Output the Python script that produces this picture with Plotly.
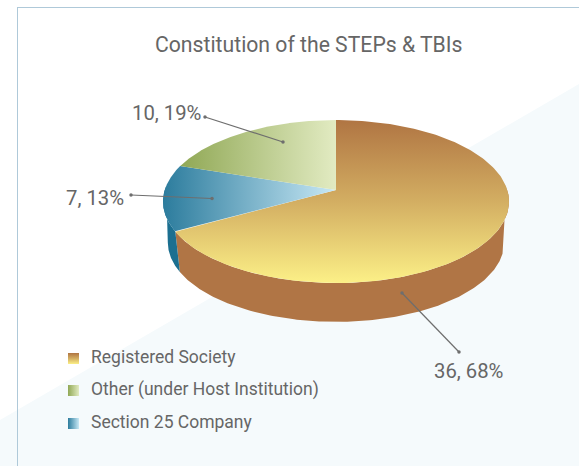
import numpy as np
import plotly.graph_objects as go

TITLE = "Constitution of the STEPs & TBIs"
categories = ["Registered Society", "Other (under Host Institution)", "Section 25 Company"]
values = [36, 10, 7]
draw_order = [0, 2, 1]  # clockwise from 12 o'clock

top_scale = {
    0: ("vertical", [[0, "#FCF087"], [0.5, "#D3AE62"], [1, "#B07543"]]),
    1: ("horizontal", [[0, "#90A855"], [1, "#E2EBC2"]]),
    2: ("horizontal", [[0, "#2C7C9D"], [1, "#C8E8F5"]]),
}
side_color = {0: "#B07545", 1: "#8A9F4D", 2: "#1B6F90"}
label_pos = {0: (468, 371), 1: (166.5, 113), 2: (95, 198)}
leaders = {0: ((402, 293), (459, 352)), 1: ((205, 117), (283, 142)), 2: ((131, 195), (212, 198.5))}
TEXT = "#666666"
FONT = "Roboto"

# pie geometry in pixels
CX, Y0, A, B, K, APEX_Y, DEPTH, BOTTOM_SCALE = 336, 195.8, 172.6, 81.1, 0.07, 190, 41.3, 0.972


def rim(deg, depth=0.0, scale=1.0):
    t = np.radians(deg)
    d = 1 + K * np.cos(t)
    return CX + scale * A * np.sin(t) / d, Y0 + depth - scale * B * np.cos(t) / d


fig = go.Figure()
total = sum(values)
start = 0.0
wedges = []
for i in draw_order:
    end = start + values[i] / total * 360
    wedges.append((i, start, end))
    start = end

# side walls (only the part facing the viewer)
for i, a0, a1 in wedges:
    lo, hi = max(a0, 84), min(a1, 277)
    if hi <= lo:
        continue
    deg = np.linspace(lo, hi, 160)
    xt, yt = rim(deg)
    b_lo = max(lo, 102)
    deg_b = np.linspace(b_lo, max(min(hi, 266), b_lo), 160)
    xb, yb = rim(deg_b[::-1], DEPTH, BOTTOM_SCALE)
    fig.add_trace(go.Scatter(
        x=np.r_[xt, xb], y=np.r_[yt, yb], mode="lines", fill="toself",
        line=dict(width=0), fillcolor=side_color[i], hoverinfo="skip", showlegend=False))

# top faces
for i, a0, a1 in wedges:
    deg = np.linspace(a0, a1, 240)
    xt, yt = rim(deg)
    kind, scale = top_scale[i]
    fig.add_trace(go.Scatter(
        x=np.r_[CX, xt, CX], y=np.r_[APEX_Y, yt, APEX_Y], mode="lines", fill="toself",
        line=dict(width=0), fillgradient=dict(type=kind, colorscale=scale),
        name=categories[i], text=categories[i], hoverinfo="text", showlegend=False))

# leaders and labels
annotations = [dict(x=308.5, y=44, text=TITLE, showarrow=False, font=dict(family=FONT, size=21.2, color=TEXT))]
for i, (p, q) in leaders.items():
    fig.add_trace(go.Scatter(x=[p[0], q[0]], y=[p[1], q[1]], mode="lines+markers",
                             line=dict(color="#6E6E6E", width=1.2),
                             marker=dict(color="#6E6E6E", size=3.5),
                             hoverinfo="skip", showlegend=False))
    annotations.append(dict(x=label_pos[i][0], y=label_pos[i][1],
                            text=f"{values[i]}, {round(values[i] / total * 100)}%",
                            showarrow=False, font=dict(family=FONT, size=20.3, color=TEXT)))

# legend
leg_y = [358.5, 390.5, 423.5]
for i, cat in enumerate(categories):
    kind, scale = top_scale[i]
    y = leg_y[i]
    fig.add_trace(go.Scatter(x=[68, 79, 79, 68, 68], y=[y - 5.5, y - 5.5, y + 5.5, y + 5.5, y - 5.5],
                             mode="lines", fill="toself", line=dict(width=0),
                             fillgradient=dict(type=kind, colorscale=scale),
                             hoverinfo="skip", showlegend=False))
    annotations.append(dict(x=89, y=y - 1.5, text=cat, xanchor="left", showarrow=False,
                            font=dict(family=FONT, size=17.5, color=TEXT)))

shapes = [
    dict(type="path", path="M 0 420 L 579 84 L 579 466 L 0 466 Z", fillcolor="#F5FAFC", line_width=0, layer="below"),
    dict(type="line", x0=17.5, x1=17.5, y0=7, y1=466, line=dict(color="#AFC9D9", width=1), layer="below"),
    dict(type="line", x0=17, x1=579, y0=7.5, y1=7.5, line=dict(color="#AFC9D9", width=1), layer="below"),
]

fig.update_layout(
    width=579, height=466, margin=dict(l=0, r=0, t=0, b=0),
    paper_bgcolor="white", plot_bgcolor="rgba(0,0,0,0)", showlegend=False,
    xaxis=dict(range=[0, 579], visible=False, fixedrange=True),
    yaxis=dict(range=[466, 0], visible=False, fixedrange=True),
    shapes=shapes, annotations=annotations,
)
fig.write_html("out.html", config={"displayModeBar": False},
               post_script="document.body.style.margin='0';document.body.style.overflow='hidden';")
